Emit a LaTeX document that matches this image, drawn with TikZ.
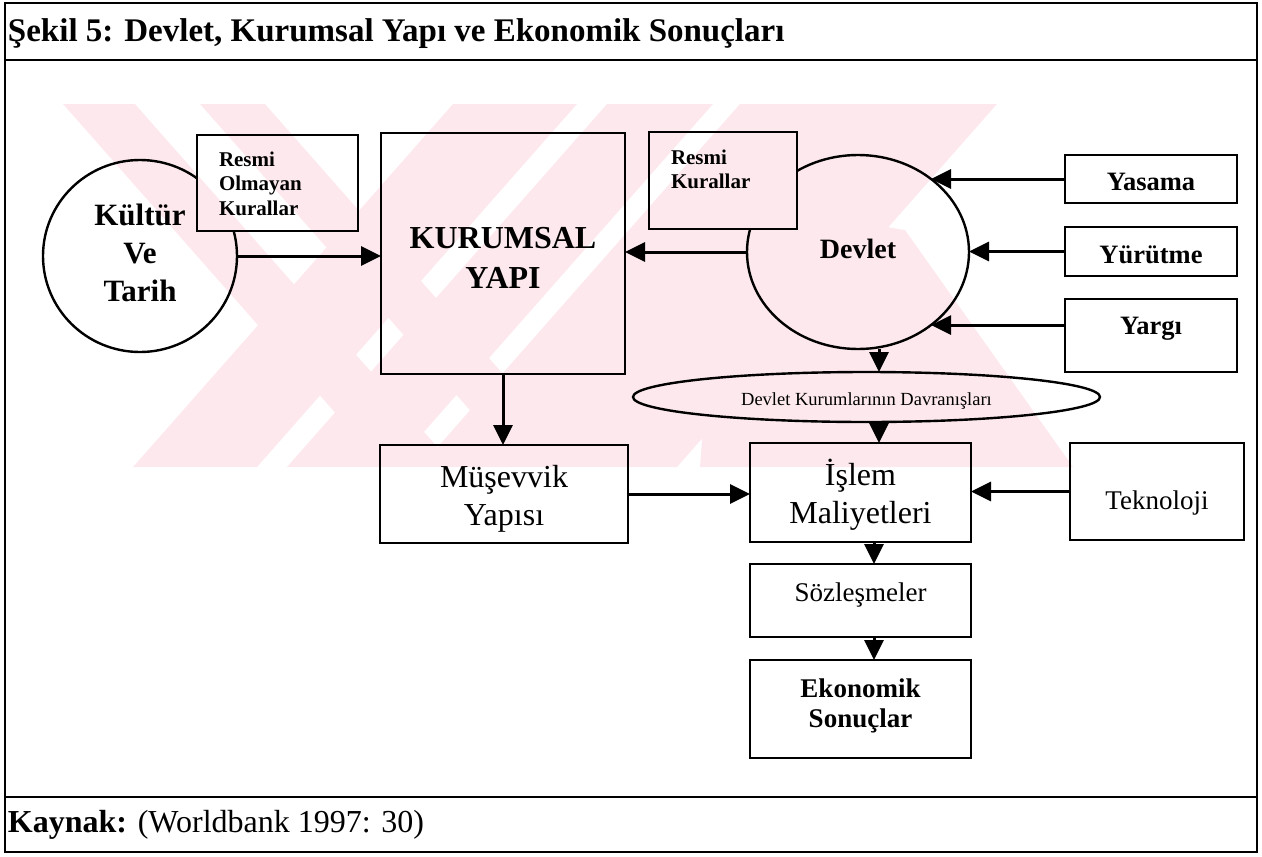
\documentclass[tikz,border=0pt]{standalone}
\usepackage{fontspec}
\setmainfont{Liberation Serif}
\usetikzlibrary{arrows.meta,shapes.geometric}
\pgfdeclarelayer{watermark}
\pgfdeclarelayer{outlines}
\pgfdeclarelayer{cover}
\pgfsetlayers{watermark,outlines,cover,main}
\definecolor{wmpink}{RGB}{253,233,237}
% pale chevron watermark, drawn as one filled path
\newcommand\wmpath{(453,104) -- (577,104) -- (257,467) -- (133,467) -- cycle
  (607,104) -- (713,104) -- (393,467) -- (287,467) -- cycle
  (740,104) -- (997,104) -- (677,467) -- (420,467) -- cycle
  (63,104) -- (135,104) -- (455,467) -- (383,467) -- cycle
  (200,104) -- (265,104) -- (585,467) -- (520,467) -- cycle
  (720,200) -- (905,230) -- (1073,467) -- (700,467) -- cycle}
% stacked lines, shifted vertically without changing the reported size
\newcommand\txtlines[3][c]{\raisebox{#2}[\height][\depth]{\begin{tabular}{@{}#1@{}}#3\end{tabular}}}
\newcommand\setfs[2]{\fontsize{#1}{#2}\selectfont}
\begin{document}
\begin{tikzpicture}[x=1pt,y=-1pt,
  every node/.style={inner sep=0pt,outer sep=0pt},
  frameline/.style={line width=2.4pt},
  box/.style={draw,rectangle,line width=2.6pt},
  roundnode/.style={draw,ellipse,line width=2.4pt},
  arr/.style={line width=3pt,-{Triangle[length=20pt,width=19pt]}}]
\useasboundingbox (0,0) rectangle (1262,857);

% frame with header and source rows
\draw[frameline] (5,3) rectangle (1257,852);
\draw[frameline] (5,60) -- (1257,60);
\draw[frameline] (5,797) -- (1257,797);
\node[anchor=base west,font=\bfseries\setfs{33}{38}] (title) at (8,41)
  {Şekil 5: Devlet, Kurumsal Yapı ve Ekonomik Sonuçları};
\node[anchor=base west,font=\setfs{32}{38}] (source) at (8,832)
  {\textbf{Kaynak:} (Worldbank 1997: 30)};

\begin{pgfonlayer}{watermark}
  \fill[wmpink] \wmpath;
\end{pgfonlayer}

\begin{pgfonlayer}{outlines}
  \node[roundnode,minimum width=194pt,minimum height=192pt,font=\bfseries\setfs{31}{38}]
    (kultur) at (140,256) {\txtlines{0pt}{Kültür\\Ve\\Tarih}};
  \node[roundnode,minimum width=222pt,minimum height=194pt,font=\bfseries\setfs{28}{34}]
    (devlet) at (858,252) {\txtlines{0pt}{Devlet}};
\end{pgfonlayer}

\node[box,minimum width=161pt,minimum height=96pt,text width=117pt,align=left,
  font=\bfseries\setfs{21}{24.5}] (informal) at (277.5,183)
  {\txtlines[l]{-2.75pt}{Resmi\\Olmayan\\Kurallar}};
\node[box,minimum width=244pt,minimum height=241pt,font=\bfseries\setfs{32}{40}]
  (kurumsal) at (503,253.5) {\txtlines{-7pt}{KURUMSAL\\YAPI}};
\node[box,minimum width=148pt,minimum height=97pt,text width=104pt,align=left,
  font=\bfseries\setfs{21}{24.5}] (formal) at (723,180.5)
  {\txtlines[l]{9pt}{Resmi\\Kurallar}};
\node[box,minimum width=172pt,minimum height=48pt,font=\bfseries\setfs{26.5}{32}]
  (yasama) at (1151,179) {\txtlines{-5.5pt}{Yasama}};
\node[box,minimum width=172pt,minimum height=49pt,font=\bfseries\setfs{26.5}{32}]
  (yurutme) at (1151,251.5) {\txtlines{-5.5pt}{Yürütme}};
\node[box,minimum width=172pt,minimum height=73pt,font=\bfseries\setfs{26.5}{32}]
  (yargi) at (1151,335.5) {\txtlines{7pt}{Yargı}};
\node[roundnode,minimum width=467pt,minimum height=50pt,font=\setfs{18.5}{22}]
  (behaviour) at (866.5,397) {\txtlines{-4pt}{Devlet Kurumlarının Davranışları}};
\node[box,minimum width=248pt,minimum height=98pt,font=\setfs{32}{38}]
  (musevvik) at (504,494) {\txtlines{-5pt}{Müşevvik\\Yapısı}};
\node[box,minimum width=221pt,minimum height=99pt,font=\setfs{32}{38}]
  (islem) at (860.5,492.5) {\txtlines{-4.5pt}{İşlem\\Maliyetleri}};
\node[box,minimum width=174pt,minimum height=97pt,font=\setfs{27}{32}]
  (tek) at (1157,491.5) {\txtlines{-12pt}{Teknoloji}};
\node[box,minimum width=221pt,minimum height=73pt,font=\setfs{27}{32}]
  (soz) at (860.5,600.5) {\txtlines{5.5pt}{Sözleşmeler}};
\node[box,minimum width=221pt,minimum height=98pt,font=\bfseries\setfs{27}{30}]
  (eko) at (860.5,709) {\txtlines{3pt}{Ekonomik\\Sonuçlar}};

% the two rule boxes hide the circle outlines behind them
\begin{pgfonlayer}{cover}
  \foreach \b in {informal,formal}{
    \fill[white] (\b.south west) rectangle (\b.north east);
    \begin{scope}
      \clip (\b.south west) rectangle (\b.north east);
      \fill[wmpink] \wmpath;
    \end{scope}
  }
\end{pgfonlayer}

\coordinate (axis1) at (879,0);
\coordinate (axis2) at (874,0);

\draw[arr] (kultur.east) -- (kultur.east -| kurumsal.west);
\draw[arr] (devlet.west) -- (devlet.west -| kurumsal.east);
\draw[arr] (yasama.west) -- (yasama.west -| devlet.45);
\draw[arr] (yurutme.west) -- (yurutme.west -| devlet.east);
\draw[arr] (yargi.west |- devlet.-45) -- (devlet.-45);
\draw[arr] (kurumsal.south) -- (kurumsal.south |- musevvik.north);
\draw[arr] (axis1 |- devlet.south) -- (axis1 |- behaviour.north);
\draw[arr] (axis1 |- behaviour.south) -- (axis1 |- islem.north);
\draw[arr] (musevvik.east) -- (musevvik.east -| islem.west);
\draw[arr] (tek.west) -- (tek.west -| islem.east);
\draw[arr] (axis2 |- islem.south) -- (axis2 |- soz.north);
\draw[arr] (axis2 |- soz.south) -- (axis2 |- eko.north);
\end{tikzpicture}
\end{document}
